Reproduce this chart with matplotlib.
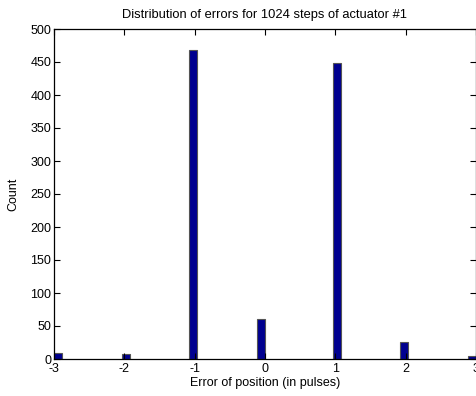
import numpy as np
import matplotlib
matplotlib.use('Agg')
import matplotlib.pyplot as plt

plt.rcParams['font.family'] = ['Liberation Sans', 'DejaVu Sans']

# position error (pulses) and how many steps had it
errors = np.array([-3, -2, -1, 0, 1, 2, 3])
counts = np.array([9, 8, 468, 60, 448, 26, 5])

# matlab style hist: 50 bins over [-3, 3]
nbins = 50
lo, hi = -3.0, 3.0
w = (hi - lo) / nbins
k = np.clip(np.ceil(np.round((errors - lo) / w, 6)) - 1, 0, nbins - 1)
left_edges = lo + k * w

fig = plt.figure(figsize=(4.77, 3.96), dpi=100)
ax = fig.add_axes([54 / 477, 1 - 359 / 396, 422 / 477, 330 / 396])

ax.bar(left_edges, counts, width=w, align='edge',
       color='#00008F', edgecolor='#555555', linewidth=0.8)

ax.set_xlim(-3, 3)
ax.set_ylim(0, 500)
ax.set_xticks(np.arange(-3, 4))
ax.set_xticklabels(['-3', '-2', '-1', '0', '1', '2', '3'])
ax.set_yticks(np.arange(0, 501, 50))
ax.tick_params(direction='in', length=4, width=0.8, labelsize=9,
               top=True, right=True)
ax.tick_params(axis='x', pad=3)
ax.tick_params(axis='y', pad=2)
for s in ax.spines.values():
    s.set_linewidth(0.9)

ax.set_title('Distribution of errors for 1024 steps of actuator #1', fontsize=9.3, pad=8)
ax.set_xlabel('Error of position (in pulses)', fontsize=9, labelpad=1)
ax.set_ylabel('Count', fontsize=9, labelpad=8)

fig.savefig('out.png', dpi=100)
